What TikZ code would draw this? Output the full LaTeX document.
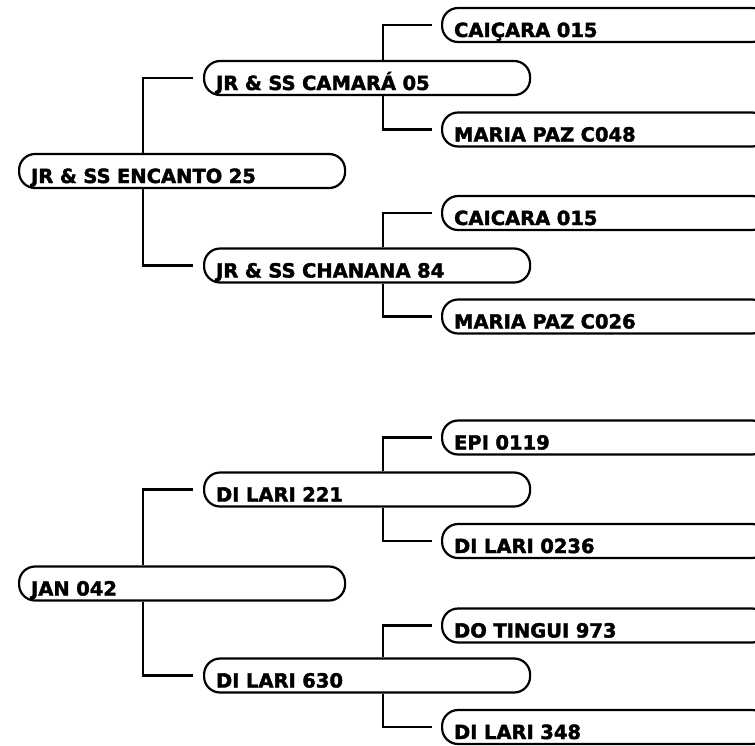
\documentclass[tikz,border=0pt]{standalone}
\usepackage{fontspec}
\newfontfamily\treefont{DejaVu Sans}[BoldFeatures={FakeBold=2}]
\usepackage{tikz}
\usetikzlibrary{positioning}
\tikzset{
  tag/.style={draw=black,line width=2.2pt,rounded corners=16pt,anchor=west,align=left,text width=302pt,inner xsep=12pt,inner ysep=0pt,text height=29pt,text depth=5pt,font={\treefont\bfseries\fontsize{19.5}{22}\selectfont}},
  link/.style={draw=black,line width=2.2pt}
}

\begin{document}
\begin{tikzpicture}[x=1pt,y=-1pt]
  \useasboundingbox (0,0) rectangle (755,745);
  \clip (0,0) rectangle (755,745);
  \node[tag] (encanto) at (18,171) {JR \& SS ENCANTO 25};
  \node[tag] (camara) at (203,78) {JR \& SS CAMARÁ 05};
  \node[tag] (chanana) at (203,265.5) {JR \& SS CHANANA 84};
  \node[tag] (caicaraA) at (441,25) {CAIÇARA 015};
  \node[tag] (mariaA) at (441,129.5) {MARIA PAZ C048};
  \node[tag] (caicaraB) at (441,213) {CAICARA 015};
  \node[tag] (mariaB) at (441,316.5) {MARIA PAZ C026};
  \node[tag] (jan) at (18,583.5) {JAN 042};
  \node[tag] (lariA) at (203,489.5) {DI LARI 221};
  \node[tag] (lariB) at (203,675.5) {DI LARI 630};
  \node[tag] (epi) at (441,437.5) {EPI 0119};
  \node[tag] (lariC) at (441,541) {DI LARI 0236};
  \node[tag] (tingui) at (441,625.5) {DO TINGUI 973};
  \node[tag] (lariD) at (441,727) {DI LARI 348};
  \draw[link] ([xshift=125pt]encanto.north west) |- ([xshift=-10pt]camara.west);
  \draw[link] ([xshift=125pt]encanto.south west) |- ([xshift=-10pt]chanana.west);
  \draw[link] ([xshift=180pt]camara.north west) |- ([xshift=-9pt]caicaraA.west);
  \draw[link] ([xshift=180pt]camara.south west) |- ([xshift=-9pt]mariaA.west);
  \draw[link] ([xshift=180pt]chanana.north west) |- ([xshift=-9pt]caicaraB.west);
  \draw[link] ([xshift=180pt]chanana.south west) |- ([xshift=-9pt]mariaB.west);
  \draw[link] ([xshift=125pt]jan.north west) |- ([xshift=-10pt]lariA.west);
  \draw[link] ([xshift=125pt]jan.south west) |- ([xshift=-10pt]lariB.west);
  \draw[link] ([xshift=180pt]lariA.north west) |- ([xshift=-9pt]epi.west);
  \draw[link] ([xshift=180pt]lariA.south west) |- ([xshift=-9pt]lariC.west);
  \draw[link] ([xshift=180pt]lariB.north west) |- ([xshift=-9pt]tingui.west);
  \draw[link] ([xshift=180pt]lariB.south west) |- ([xshift=-9pt]lariD.west);
\end{tikzpicture}
\end{document}
